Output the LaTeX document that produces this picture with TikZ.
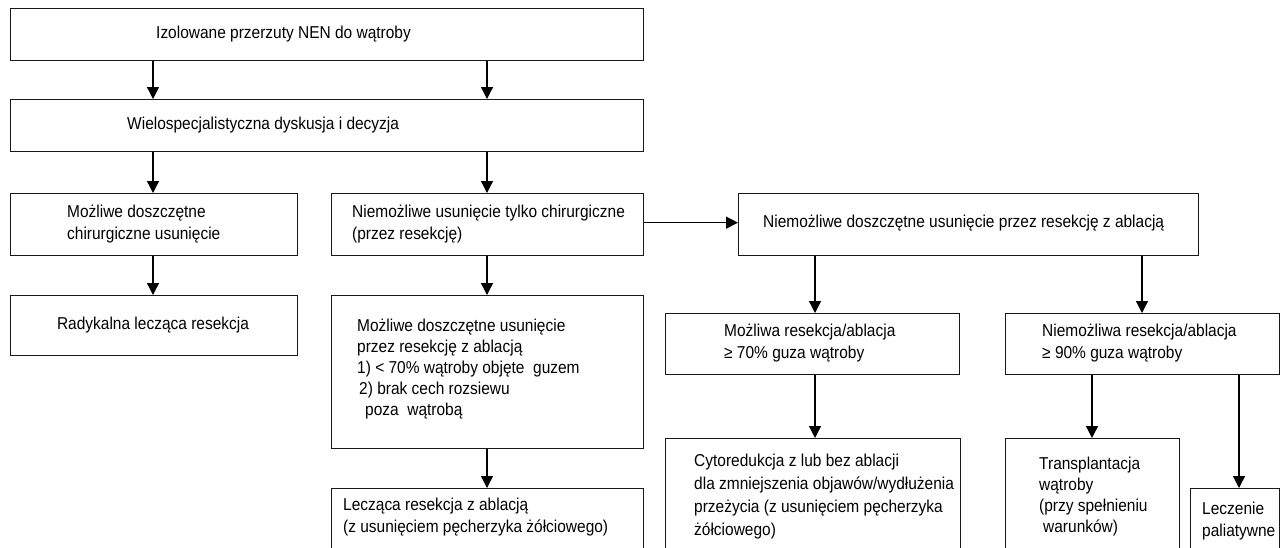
\documentclass[tikz,border=0pt]{standalone}
\usepackage{fontspec}
\setmainfont{Liberation Sans}[FakeStretch=0.9]
\usetikzlibrary{arrows.meta}
\begin{document}
\begin{tikzpicture}[x=1pt,y=-1pt,
  box/.style={draw=black!90, line width=1.3pt, inner sep=0pt, anchor=north west},
  txt/.style={inner sep=0pt, anchor=west, align=left, font=\fontsize{17.2}{22}\selectfont, text=black},
  arr/.style={-{Triangle[width=12pt,length=12pt]}, line width=1.3pt, draw=black}]
\useasboundingbox (0,0) rectangle (1282,547);
% boxes
\node[box, minimum width=633pt, minimum height=52pt] (b1) at (10,8) {};
\node[box, minimum width=633pt, minimum height=52pt] (b2) at (10,99) {};
\node[box, minimum width=287pt, minimum height=62pt] (b3) at (10,193) {};
\node[box, minimum width=312pt, minimum height=62pt] (b4) at (331,193) {};
\node[box, minimum width=460pt, minimum height=62pt] (b5) at (738,193) {};
\node[box, minimum width=287pt, minimum height=60pt] (b6) at (10,295) {};
\node[box, minimum width=312pt, minimum height=153pt] (b7) at (331,295) {};
\node[box, minimum width=312pt, minimum height=90pt] (b8) at (331,488) {};
\node[box, minimum width=294pt, minimum height=61pt] (b9) at (665,313) {};
\node[box, minimum width=274pt, minimum height=61pt] (b10) at (1005,313) {};
\node[box, minimum width=295pt, minimum height=140pt] (b11) at (665,438) {};
\node[box, minimum width=174pt, minimum height=140pt] (b12) at (1005,438) {};
\node[box, minimum width=89pt, minimum height=90pt] (b13) at (1190,488) {};
% texts
\node[txt] (t1) at (156,34) {Izolowane przerzuty NEN do wątroby};
\node[txt] (t2) at (127,125) {Wielospecjalistyczna dyskusja i decyzja};
\node[txt] (t3) at (67,224) {Możliwe doszczętne\\chirurgiczne usunięcie};
\node[txt] (t4) at (352,224) {Niemożliwe usunięcie tylko chirurgiczne\\(przez resekcję)};
\node[txt] (t5) at (763,223) {Niemożliwe doszczętne usunięcie przez resekcję z ablacją};
\node[txt, anchor=center] (t6) at (153,325) {Radykalna lecząca resekcja};
\node[txt, font=\fontsize{17.2}{21}\selectfont] (t7) at (357,369) {Możliwe doszczętne usunięcie\\przez resekcję z ablacją\\1) < 70\% wątroby objęte\ \ guzem\\\hspace*{2pt}2) brak cech rozsiewu\\\hspace*{8pt}poza\ \ wątrobą};
\node[txt] (t8) at (343,517) {Lecząca resekcja z ablacją\\(z usunięciem pęcherzyka żółciowego)};
\node[txt] (t9) at (724,343.5) {Możliwa resekcja/ablacja\\≥ 70\% guza wątroby};
\node[txt] (t10) at (1042,343.5) {Niemożliwa resekcja/ablacja\\≥ 90\% guza wątroby};
\node[txt, font=\fontsize{17.2}{23}\selectfont] (t11) at (694,497) {Cytoredukcja z lub bez ablacji\\dla zmniejszenia objawów/wydłużenia\\przeżycia (z usunięciem pęcherzyka\\żółciowego)};
\node[txt, font=\fontsize{17.2}{21}\selectfont] (t12) at (1039,497) {Transplantacja\\wątroby\\(przy spełnieniu\\\hspace*{4pt}warunków)};
\node[txt] (t13) at (1202,521) {Leczenie\\paliatywne};
% columns
\coordinate (c1) at (153,0);
\coordinate (c2) at (487,0);
\coordinate (c3) at (815,0);
\coordinate (c4) at (1142,0);
\coordinate (c5) at (1092,0);
\coordinate (c6) at (1239,0);
% connectors
\draw[arr] (c1 |- b1.south) -- (c1 |- b2.north);
\draw[arr] (c2 |- b1.south) -- (c2 |- b2.north);
\draw[arr] (c1 |- b2.south) -- (c1 |- b3.north);
\draw[arr] (c2 |- b2.south) -- (c2 |- b4.north);
\draw[arr] ([yshift=2pt]b4.east) -- ([yshift=2pt]b5.west);
\draw[arr] (c1 |- b3.south) -- (c1 |- b6.north);
\draw[arr] (c2 |- b4.south) -- (c2 |- b7.north);
\draw[arr] (c2 |- b7.south) -- (c2 |- b8.north);
\draw[arr] (c3 |- b5.south) -- (c3 |- b9.north);
\draw[arr] (c4 |- b5.south) -- (c4 |- b10.north);
\draw[arr] (c3 |- b9.south) -- (c3 |- b11.north);
\draw[arr] (c5 |- b10.south) -- (c5 |- b12.north);
\draw[arr] (c6 |- b10.south) -- (c6 |- b13.north);
\end{tikzpicture}
\end{document}
